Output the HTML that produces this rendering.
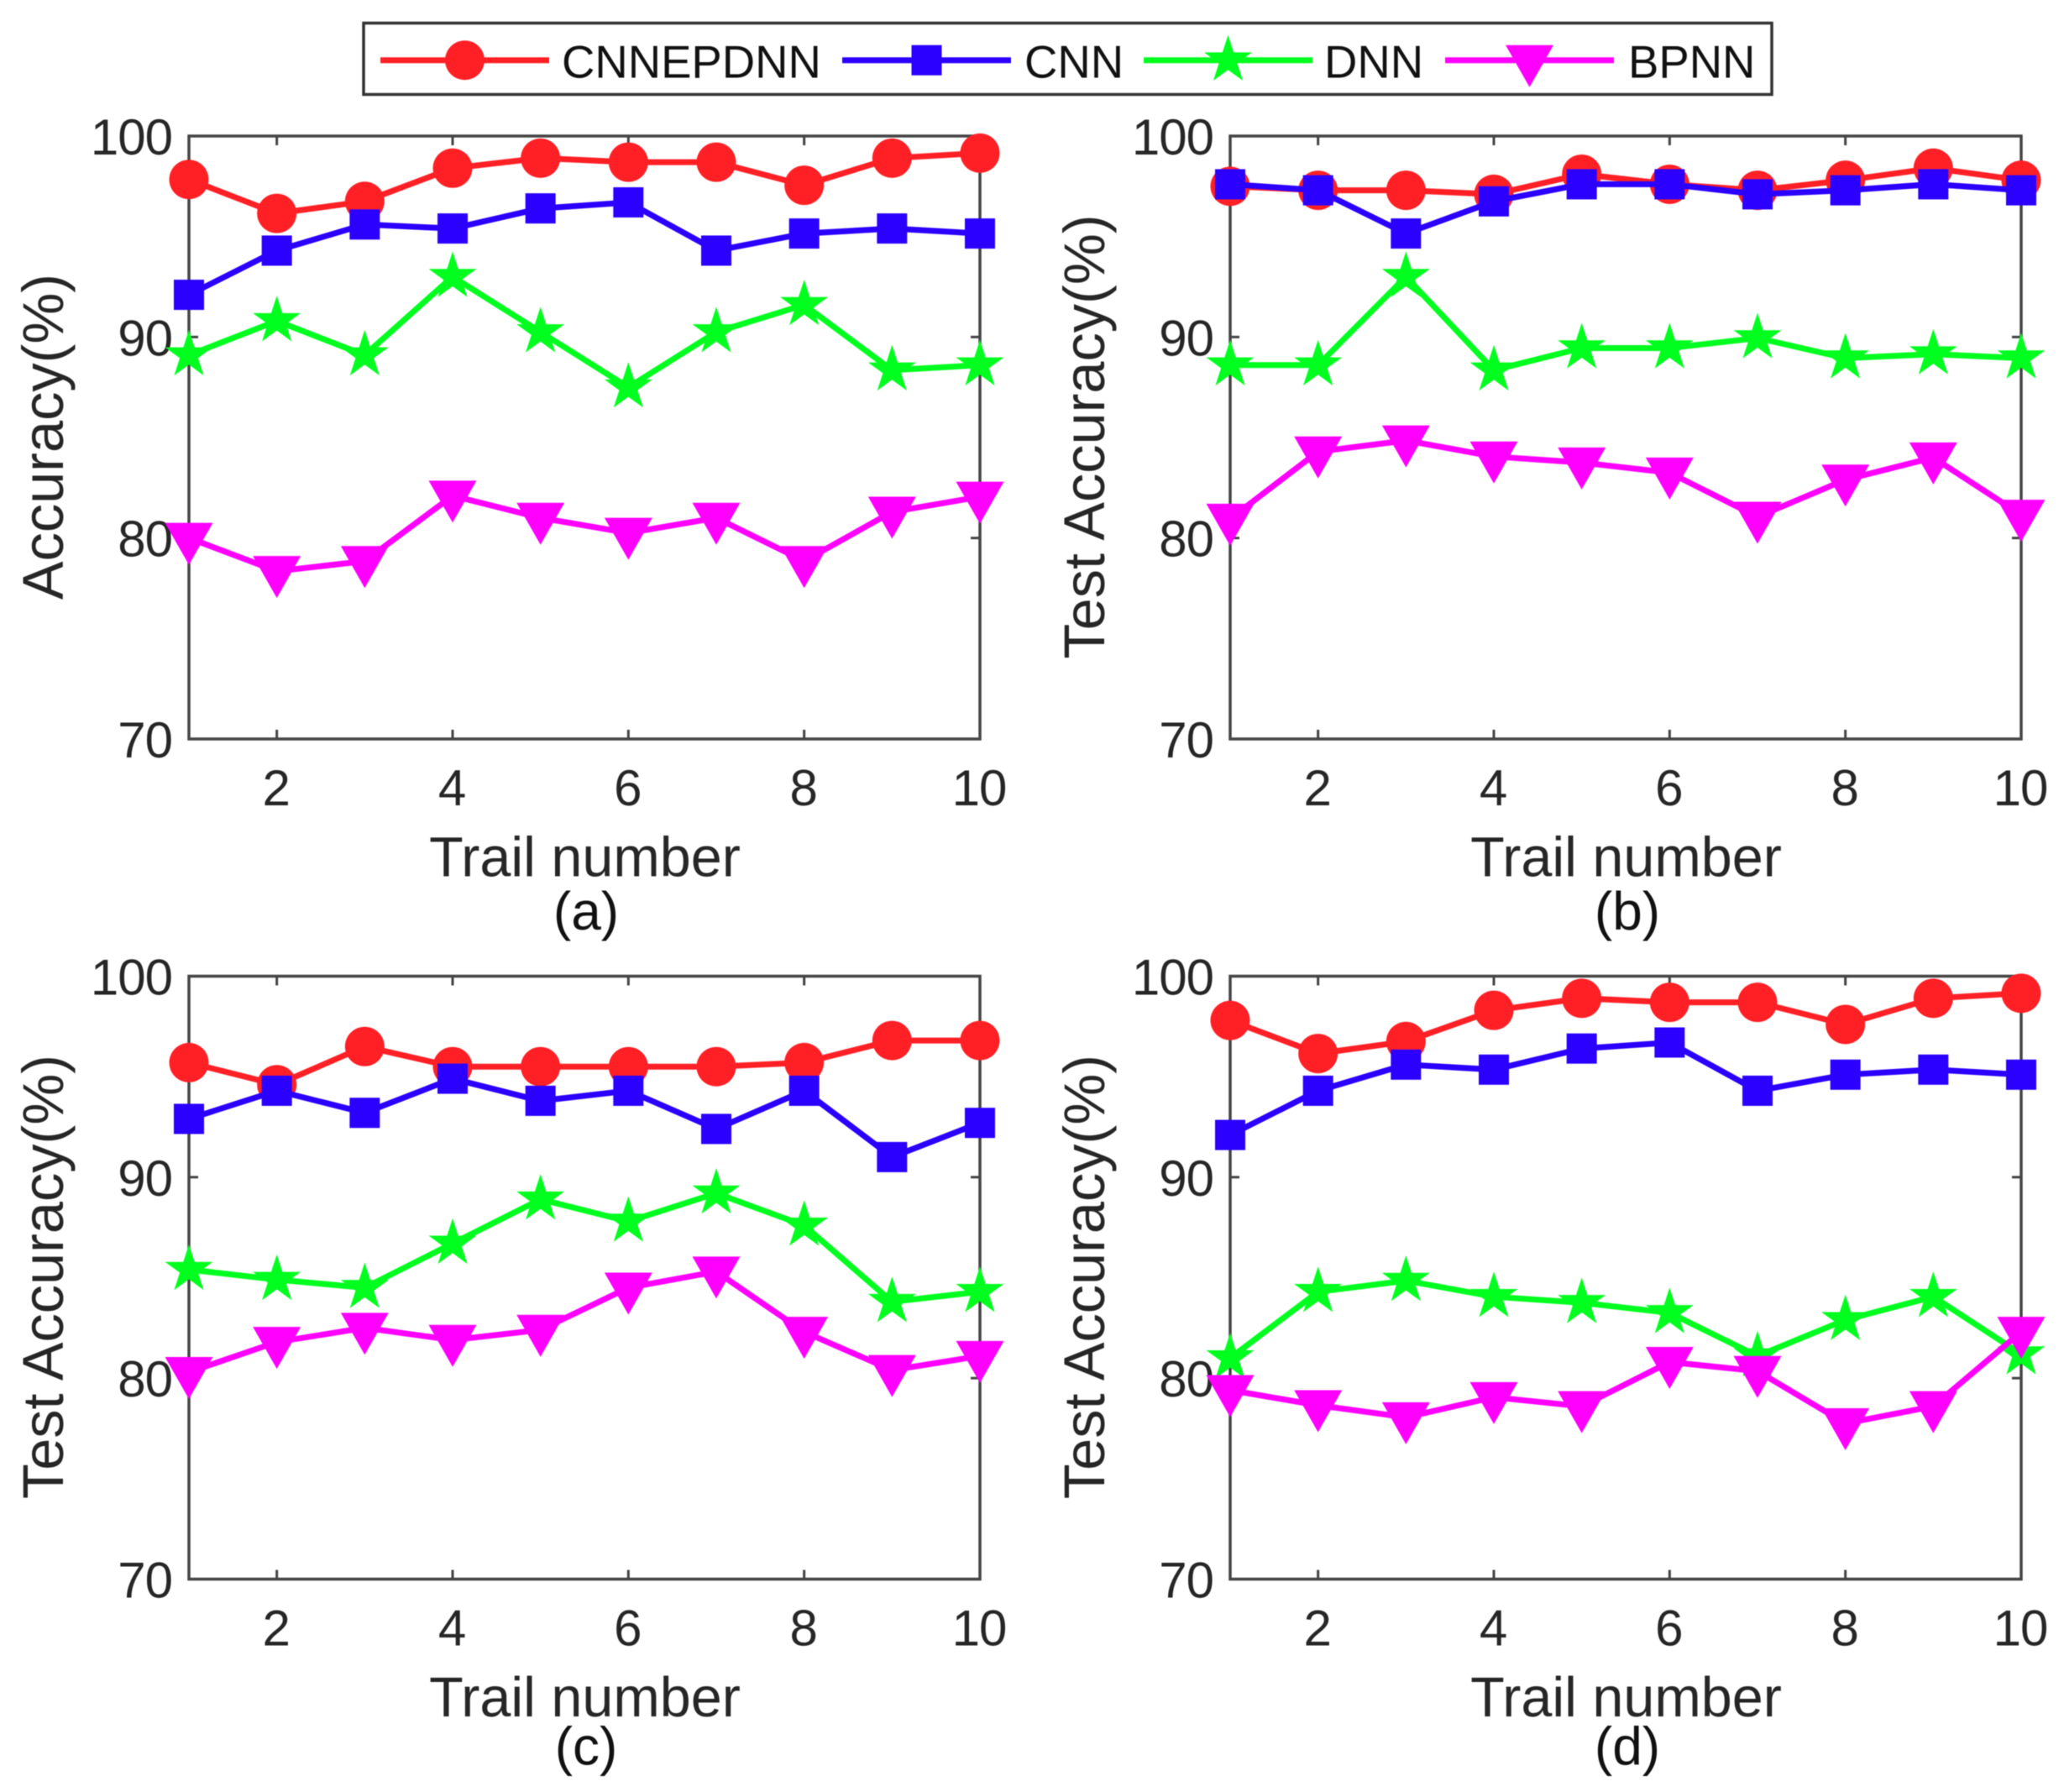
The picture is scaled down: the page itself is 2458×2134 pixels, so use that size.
<!DOCTYPE html>
<html lang="en">
<head>
<meta charset="utf-8">
<title>Accuracy by trail number</title>
<style>
html,body{margin:0;padding:0;background:#fff;}
svg{display:block;}
text{font-family:"Liberation Sans",Arial,sans-serif;}
#fig{filter:blur(0.6px);}
</style>
</head>
<body>
<svg id="fig" xmlns="http://www.w3.org/2000/svg" width="2458" height="2134" viewBox="0 0 2458 2134">
  <rect x="0" y="0" width="2458" height="2134" fill="#fff"/>
  <g id="legend">
    <rect x="433" y="27.5" width="1677" height="85" fill="#fff" stroke="#333" stroke-width="3.5"/>
  </g>
</svg>
<script>
// ---- chart data ----
var seriesNames = ["CNNEPDNN", "CNN", "DNN", "BPNN"];
var trials = [1, 2, 3, 4, 5, 6, 7, 8, 9, 10];
var xTicks = [2, 4, 6, 8, 10];
var yTicks = [70, 80, 90, 100];

var aCnnepdnn = [97.84, 96.15, 96.75, 98.4, 98.9, 98.7, 98.7, 97.55, 98.9, 99.15];
var aCnn = [92.1, 94.3, 95.6, 95.4, 96.4, 96.7, 94.3, 95.15, 95.4, 95.15];
var aDnn = [89.1, 90.8, 89.1, 93.0, 90.25, 87.5, 90.25, 91.6, 88.35, 88.6];
var aBpnn = [80, 78.35, 78.85, 82.1, 81, 80.25, 81, 78.85, 81.3, 82.05];

var bCnnepdnn = [97.5, 97.3, 97.3, 97.1, 98.1, 97.6, 97.3, 97.8, 98.4, 97.8];
var bCnn = [97.6, 97.3, 95.15, 96.75, 97.6, 97.6, 97.1, 97.3, 97.6, 97.3];
var bDnn = [88.6, 88.6, 93, 88.35, 89.45, 89.45, 89.95, 88.95, 89.15, 88.95];
var bBpnn = [80.95, 84.3, 84.85, 84.05, 83.75, 83.25, 81.05, 82.9, 84, 81.15];

var cCnnepdnn = [95.7, 94.6, 96.5, 95.5, 95.5, 95.5, 95.5, 95.7, 96.8, 96.8];
var cCnn = [92.9, 94.3, 93.2, 94.9, 93.8, 94.3, 92.4, 94.3, 91.0, 92.7];
var cDnn = [85.4, 84.9, 84.5, 86.7, 88.9, 87.8, 89.2, 87.6, 83.8, 84.3];
var cBpnn = [80.3, 81.8, 82.5, 81.9, 82.4, 84.5, 85.3, 82.3, 80.4, 81.1];

var dCnnepdnn = [97.8, 96.15, 96.75, 98.3, 98.9, 98.7, 98.7, 97.6, 98.9, 99.15];
var dCnn = [92.1, 94.3, 95.6, 95.35, 96.4, 96.7, 94.3, 95.1, 95.35, 95.1];
var dDnn = [81, 84.3, 84.85, 84.05, 83.75, 83.25, 81.1, 82.9, 84.05, 81.2];
var dBpnn = [79.4, 78.65, 78.05, 79.05, 78.6, 80.8, 80.35, 77.75, 78.6, 82.3];

var panelIds = ["a", "b", "c", "d"];
var panelYTitles = ["Accuracy(%)", "Test Accuracy(%)", "Test Accuracy(%)", "Test Accuracy(%)"];
var panelSeries = [
  [aCnnepdnn, aCnn, aDnn, aBpnn],
  [bCnnepdnn, bCnn, bDnn, bBpnn],
  [cCnnepdnn, cCnn, cDnn, cBpnn],
  [dCnnepdnn, dCnn, dDnn, dBpnn]
];

// ---- layout and style ----
var NS = "http://www.w3.org/2000/svg";
var svg = document.getElementById("fig");
var legend = document.getElementById("legend");
var colors = ["#ff2026", "#2b00ff", "#00ff1e", "#ff00ff"];
var slugs = ["cnnepdnn", "cnn", "dnn", "bpnn"];
var lefts = [225, 1465, 225, 1465];
var tops = [162, 162, 1162.5, 1162.5];
var captionOffsets = [227, 227, 221, 221];
var plotW = 942;
var plotH = 718;
var axisColor = "#444";
var tickColor = "#262626";

function make(tag, attrs, parent) {
  var el = document.createElementNS(NS, tag);
  for (var k in attrs) el.setAttribute(k, attrs[k]);
  parent.appendChild(el);
  return el;
}

function starPoints(cx, cy, R) {
  var r = R * 0.382, pts = [];
  for (var i = 0; i < 10; i++) {
    var rad = i % 2 ? r : R;
    var a = -Math.PI / 2 + i * Math.PI / 5;
    pts.push((cx + rad * Math.cos(a)).toFixed(1) + "," + (cy + rad * Math.sin(a)).toFixed(1));
  }
  return pts.join(" ");
}

function drawMarker(kind, cx, cy, color, parent) {
  var m;
  if (kind === 0) {
    m = make("circle", {cx: cx, cy: cy, r: 23.5, fill: color}, parent);
  } else if (kind === 1) {
    m = make("rect", {x: cx - 18, y: cy - 18, width: 36, height: 36, fill: color}, parent);
  } else if (kind === 2) {
    m = make("polygon", {points: starPoints(cx, cy, 30), fill: color}, parent);
  } else {
    m = make("polygon", {points: (cx - 28.5) + "," + (cy - 18) + " " + (cx + 28.5) + "," + (cy - 18) + " " + cx + "," + (cy + 32), fill: color}, parent);
  }
  return m;
}

function drawPanel(p) {
  var left = lefts[p], top = tops[p];
  var xScale = function (v) { return left + (v - 1) / 9 * plotW; };
  var yScale = function (v) { return top + (100 - v) / 30 * plotH; };

  var g = make("g", {}, svg);
  
  

  var box = make("rect", {x: left, y: top, width: plotW, height: plotH, fill: "none", stroke: axisColor, "stroke-width": 3.5}, g);
  
  

  xTicks.forEach(function (t) {
    var x = xScale(t);
    var bottomMark = make("line", {x1: x, x2: x, y1: top + plotH, y2: top + plotH - 11, stroke: axisColor, "stroke-width": 3}, g);
    
    
    var topMark = make("line", {x1: x, x2: x, y1: top, y2: top + 11, stroke: axisColor, "stroke-width": 3}, g);
    
    
    var label = make("text", {x: x - 1, y: top + plotH + 79, "text-anchor": "middle", "font-size": 60, "letter-spacing": -1, fill: tickColor}, g);
    
    
    label.textContent = t;
  });

  yTicks.forEach(function (t) {
    var y = yScale(t);
    var leftMark = make("line", {x1: left, x2: left + 11, y1: y, y2: y, stroke: axisColor, "stroke-width": 3}, g);
    
    
    var rightMark = make("line", {x1: left + plotW, x2: left + plotW - 11, y1: y, y2: y, stroke: axisColor, "stroke-width": 3}, g);
    
    
    var label = make("text", {x: left - 20, y: y + 22, "text-anchor": "end", "font-size": 60, "letter-spacing": -1, fill: tickColor}, g);
    
    
    label.textContent = t;
  });

  var xTitle = make("text", {x: left + plotW / 2 + 0.5, y: top + plotH + 163.5, "text-anchor": "middle", "font-size": 66.5, fill: tickColor}, g);
  
  
  xTitle.textContent = "Trail number";

  var yMid = top + plotH / 2 - 1;
  var yTitle = make("text", {x: left - 150, y: yMid, "text-anchor": "middle", "font-size": 68.5, fill: tickColor, transform: "rotate(-90 " + (left - 150) + " " + yMid + ")"}, g);
  
  
  yTitle.textContent = panelYTitles[p];

  var caption = make("text", {x: left + plotW / 2 + 2, y: top + plotH + captionOffsets[p], "text-anchor": "middle", "font-size": 64, fill: "#111"}, g);
  
  
  caption.textContent = "(" + panelIds[p] + ")";

  panelSeries[p].forEach(function (values, s) {
    var sg = make("g", {}, g);
    
    
    var pts = values.map(function (v, i) {
      return xScale(trials[i]).toFixed(1) + "," + yScale(v).toFixed(1);
    }).join(" ");
    var line = make("polyline", {points: pts, fill: "none", stroke: colors[s], "stroke-width": 7, "stroke-linejoin": "miter"}, sg);
    
    
    values.forEach(function (v, i) {
      var mark = drawMarker(s, xScale(trials[i]), yScale(v), colors[s], sg);
      
      
    });
  });
}

for (var p = 0; p < 4; p++) drawPanel(p);

// ---- legend ----
var legendLineStart = [453, 1003, 1362, 1721];
var legendTextStart = [669, 1220, 1577, 1939];
seriesNames.forEach(function (name, s) {
  var eg = make("g", {}, legend);
  
  
  var x0 = legendLineStart[s];
  var ly = 71.7;
  var swatch = make("line", {x1: x0, x2: x0 + 201, y1: ly, y2: ly, stroke: colors[s], "stroke-width": 7}, eg);
  
  
  var lm = drawMarker(s, x0 + 100.5, ly, colors[s], eg);
  
  
  var txt = make("text", {x: legendTextStart[s], y: 92.5, "font-size": 54.5, fill: "#111"}, eg);
  
  
  txt.textContent = name;
});
</script>
</body>
</html>
